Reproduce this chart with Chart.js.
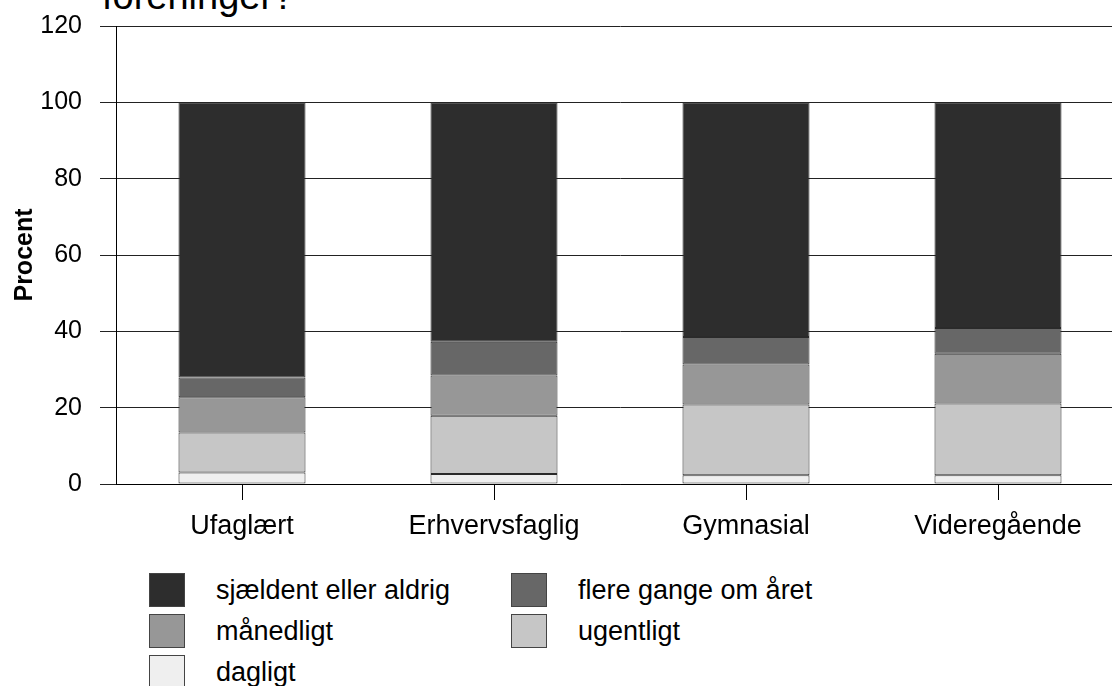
<!DOCTYPE html>
<html>
<head>
<meta charset="utf-8">
<script src="https://cdn.jsdelivr.net/npm/chart.js@4/dist/chart.umd.min.js"></script>
<style>
  html, body { margin: 0; padding: 0; background: #fff; overflow: hidden; width: 1112px; height: 686px; }
  body { position: relative; font-family: "Liberation Sans", Arial, sans-serif; }
  #titel { position: absolute; left: 102px; top: -23px; font-size: 38px; line-height: 38px; color: #000; white-space: nowrap; }
  #wrap { position: absolute; left: 0; top: -7px; width: 1130px; height: 561px; }
  #legend { position: absolute; left: 149px; top: 573px; display: grid; grid-template-columns: 362px 362px; row-gap: 7px; }
  .item { display: flex; align-items: center; height: 34px; }
  .box { width: 34px; height: 32px; border: 1px solid #444; margin-right: 31px; flex: none; }
  .lbl { font-size: 27px; color: #000; white-space: nowrap; }
</style>
</head>
<body>
<div id="titel">foreninger?</div>
<div id="wrap"><canvas id="chart"></canvas></div>
<div id="legend"></div>
<script>
// Kategorier og andele (procent)
const kategorier = ["Ufaglært", "Erhvervsfaglig", "Gymnasial", "Videregående"];
const dagligt = [3.0, 2.6, 2.3, 2.3];
const ugentligt = [10.5, 15.3, 18.5, 18.8];
const maanedligt = [9.2, 10.5, 10.5, 13.0];
const flereGange = [5.2, 8.9, 7.2, 6.8];
const sjaeldent = [72.1, 62.7, 61.5, 59.1];
const yTicks = [0, 20, 40, 60, 80, 100, 120];

document.addEventListener("DOMContentLoaded", function () {
  const font = "Liberation Sans";

  function serie(label, data, farve) {
    return {
      label: label,
      data: data,
      backgroundColor: farve,
      borderColor: "#2a2a2a",
      borderWidth: 1,
      borderSkipped: false,
      categoryPercentage: 1,
      barPercentage: 0.504
    };
  }

  const canvas = document.getElementById("chart");
  const chart = new Chart(canvas.getContext("2d"), {
    type: "bar",
    data: {
      labels: kategorier,
      datasets: [
        serie("dagligt", dagligt, "#efefef"),
        serie("ugentligt", ugentligt, "#c6c6c6"),
        serie("månedligt", maanedligt, "#979797"),
        serie("flere gange om året", flereGange, "#676767"),
        serie("sjældent eller aldrig", sjaeldent, "#2d2d2d")
      ]
    },
    options: {
      responsive: true,
      maintainAspectRatio: false,
      animation: false,
      layout: { padding: { top: 20, right: 6, bottom: 0, left: 0 } },
      plugins: {
        legend: { display: false },
        tooltip: { enabled: false }
      },
      scales: {
        x: {
          stacked: true,
          afterFit: function (s) { s.height = 70; },
          border: { display: true, color: "#000", width: 1 },
          grid: { display: true, drawOnChartArea: false, drawTicks: true, tickLength: 16, offset: false, color: "#000" },
          ticks: { color: "#000", padding: 10, font: { family: font, size: 27 } }
        },
        y: {
          stacked: true,
          min: 0,
          max: 120,
          afterFit: function (s) { s.width = 116; },
          afterBuildTicks: function (s) { s.ticks = yTicks.map(v => ({ value: v })); },
          border: { display: true, color: "#000", width: 1 },
          grid: { color: "#222", lineWidth: 1, drawTicks: true, tickLength: 16 },
          ticks: { color: "#000", padding: 18, font: { family: font, size: 25 } },
          title: { display: true, text: "Procent", color: "#000", padding: { top: 10, bottom: 0 }, font: { family: font, size: 25, weight: "bold" } }
        }
      }
    }
  });

  // Forklaring i to kolonner, øverste stak først
  const legend = document.getElementById("legend");
  chart.data.datasets.slice().reverse().forEach(function (ds) {
    const item = document.createElement("div");
    item.className = "item";
    const box = document.createElement("span");
    box.className = "box";
    box.style.background = ds.backgroundColor;
    const lbl = document.createElement("span");
    lbl.className = "lbl";
    lbl.textContent = ds.label;
    item.appendChild(box);
    item.appendChild(lbl);
    legend.appendChild(item);
  });
});
</script>
</body>
</html>
